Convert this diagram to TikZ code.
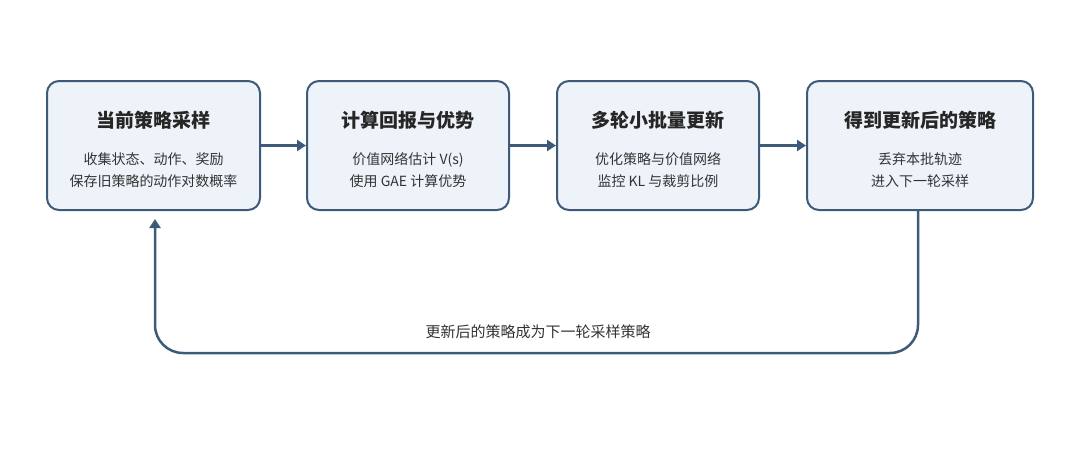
\documentclass[tikz,border=0pt]{standalone}
\usepackage{fontspec}
\setmainfont{Noto Sans CJK SC}
\usetikzlibrary{arrows.meta}
\definecolor{edge}{HTML}{3D5A78}
\definecolor{boxfill}{HTML}{EEF3FA}
\definecolor{txt}{HTML}{333333}
\begin{document}
\begin{tikzpicture}[x=1pt,y=-1pt,
 box/.style={draw=edge,line width=2pt,fill=boxfill,rounded corners=12pt,minimum height=129pt,inner sep=0pt},
 ttl/.style={font=\fontsize{19}{22}\selectfont\bfseries,text=black!85},
 sub/.style={font=\fontsize{14}{22}\selectfont,text=txt,align=center},
 arr/.style={draw=edge,line width=2.5pt,-{Triangle[length=9pt,width=11pt]}}]
\useasboundingbox (0,0) rectangle (1080,459);
\node[box,minimum width=213pt] (b1) at (153.5,145.5) {};
\node[box,minimum width=202pt] (b2) at (408,145.5) {};
\node[box,minimum width=202pt] (b3) at (658,145.5) {};
\node[box,minimum width=226pt] (b4) at (920,145.5) {};
\foreach \n/\x/\t/\s in {b1/153.5/当前策略采样/{收集状态、动作、奖励\\保存旧策略的动作对数概率},
 b2/408/计算回报与优势/{价值网络估计 V(s)\\使用 GAE 计算优势},
 b3/658/多轮小批量更新/{优化策略与价值网络\\监控 KL 与裁剪比例},
 b4/920/得到更新后的策略/{丢弃本批轨迹\\进入下一轮采样}}{
 \node[ttl] (\n t) at (\x,120) {\t};
 \node[sub] (\n s) at (\x,170) {\s};
}
\draw[arr] (b1.east) -- (b2.west);
\draw[arr] (b2.east) -- (b3.west);
\draw[arr] (b3.east) -- (b4.west);
\coordinate (c1) at (918,353);
\coordinate (c2) at (155,353);
\draw[arr,rounded corners=28pt] (918,210) -- (c1) -- (c2) -- (155,219);
\node[sub,font=\fontsize{15}{18}\selectfont] (lbl) at (538,332) {更新后的策略成为下一轮采样策略};
\end{tikzpicture}
\end{document}
